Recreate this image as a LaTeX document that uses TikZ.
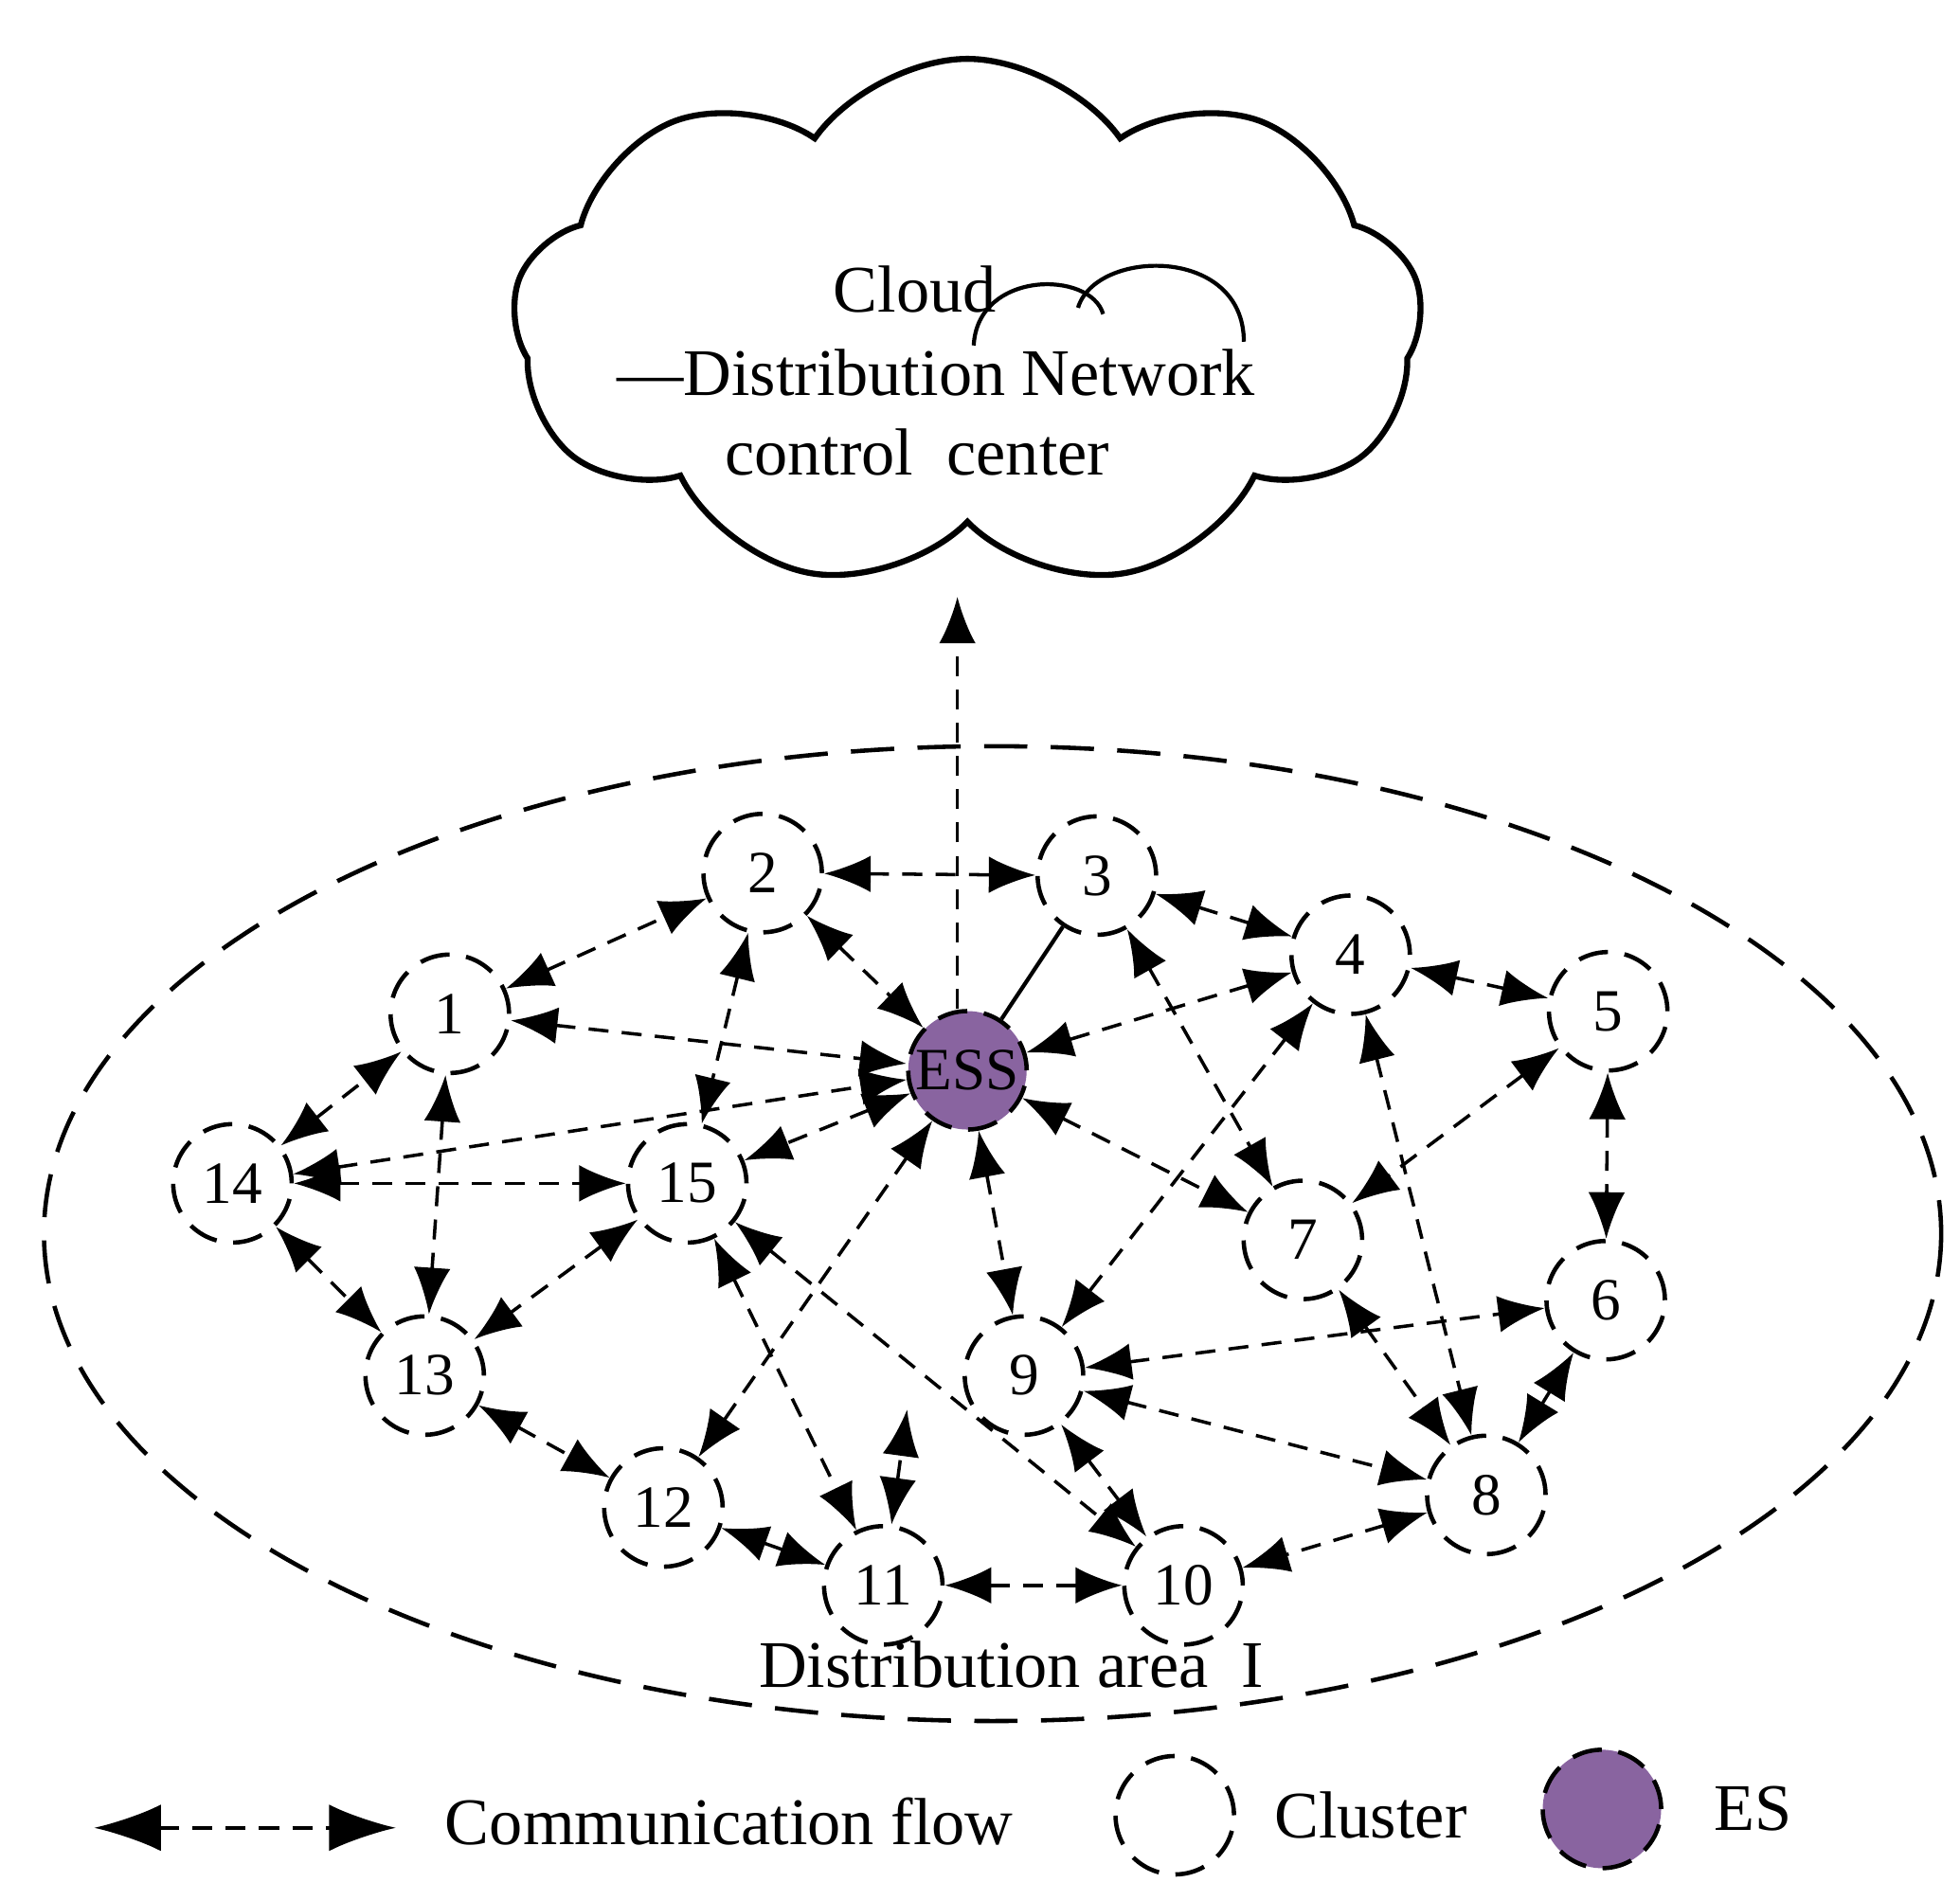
\documentclass[tikz,border=0pt]{standalone}
\usepackage{fontspec}
\setmainfont{Liberation Serif}
\usetikzlibrary{arrows.meta,shapes.symbols}
\begin{document}
\begin{tikzpicture}[x=0.01326cm,y=-0.01326cm,
 cl/.style={circle,draw,line width=1.3pt,dash pattern=on 9pt off 5pt,minimum size=1.25cm,inner sep=0pt,font=\fontsize{18}{20}\selectfont},
 fl/.style={line width=1pt,dash pattern=on 6pt off 4pt,{Latex[length=14pt,width=11pt]}-{Latex[length=14pt,width=11pt]}},
 big/.style={font=\fontsize{20}{24}\selectfont}]
\useasboundingbox (0,0) rectangle (1560,1512);
\node[cloud,draw,line width=1.8pt,cloud puffs=9,cloud puff arc=110,aspect=1.6,minimum width=9.6cm,minimum height=5.6cm] (cloud) at (770,258) {};
\draw[line width=1.2pt] (775,275) .. controls (778,215) and (868,215) .. (878,250);
\draw[line width=1.2pt] (858,245) .. controls (872,198) and (990,195) .. (990,272);
\node[big] (t1) at (728,230) {Cloud};
\node[big] (t2) at (745,297) {—Distribution Network};
\node[big] (t3) at (730,360) {control\ \ center};
\draw[line width=1.3pt,dash pattern=on 13pt off 7pt] (790,982) ellipse[x radius=755,y radius=388];
\node[cl] (n2) at (607,695) {2};
\node[cl] (n3) at (873,697) {3};
\node[cl] (n4) at (1075,760) {4};
\node[cl] (n5) at (1280,805) {5};
\node[cl] (n1) at (358,807) {1};
\node[circle,fill={rgb,255:red,137;green,100;blue,160},draw,line width=1.3pt,dash pattern=on 9pt off 5pt,minimum size=1.25cm,inner sep=0pt,font=\fontsize{18}{20}\selectfont] (ess) at (770,852) {ESS};
\node[cl] (n14) at (185,942) {14};
\node[cl] (n15) at (547,942) {15};
\node[cl] (n7) at (1037,987) {7};
\node[cl] (n6) at (1278,1035) {6};
\node[cl] (n9) at (815,1095) {9};
\node[cl] (n13) at (338,1095) {13};
\node[cl] (n12) at (528,1200) {12};
\node[cl] (n8) at (1183,1190) {8};
\node[cl] (n11) at (703,1262) {11};
\node[cl] (n10) at (942,1262) {10};
\node[big] (da) at (805,1325) {Distribution area \ I};
\draw[line width=1pt,dash pattern=on 6pt off 4pt,-{Latex[length=14pt,width=11pt]}] (ess.north) ++(-8,0) coordinate (e0) -- (762,475) coordinate (cb);
\draw[line width=1.2pt] (n3) -- (ess);
\foreach \a/\b in {n2/n3,n3/n4,n4/n5,n1/n2,n2/ess,n1/ess,n4/ess,n3/n7,n4/n8,n5/n7,n5/n6,n4/n9,n14/n1,n14/ess,n2/n15,n1/n13,n14/n15,n14/n13,n15/n13,ess/n15,ess/n12,ess/n9,ess/n7,n15/n11,n15/n10,n9/n10,n9/n6,n9/n8,n7/n8,n8/n6,n8/n10,n11/n10,n12/n11,n13/n12}
 \draw[fl] (\a) -- (\b);
\coordinate (s1) at (722,1122);
\draw[fl] (n11) -- (s1);
% legend
\coordinate (la) at (75,1455); \coordinate (lb) at (315,1455);
\draw[line width=1pt,dash pattern=on 6pt off 4pt,{Latex[length=20pt,width=14pt]}-{Latex[length=20pt,width=14pt]}] (la) -- (lb);
\node[big,anchor=west] (l1) at (345,1450) {Communication flow};
\node[cl] (lc) at (935,1445) {};
\node[big,anchor=west] (l2) at (1005,1445) {Cluster};
\node[circle,fill={rgb,255:red,137;green,100;blue,160},draw,line width=1.3pt,dash pattern=on 9pt off 5pt,minimum size=1.25cm] (le) at (1275,1440) {};
\node[big,anchor=west] (l3) at (1355,1440) {ES};
\end{tikzpicture}
\end{document}
